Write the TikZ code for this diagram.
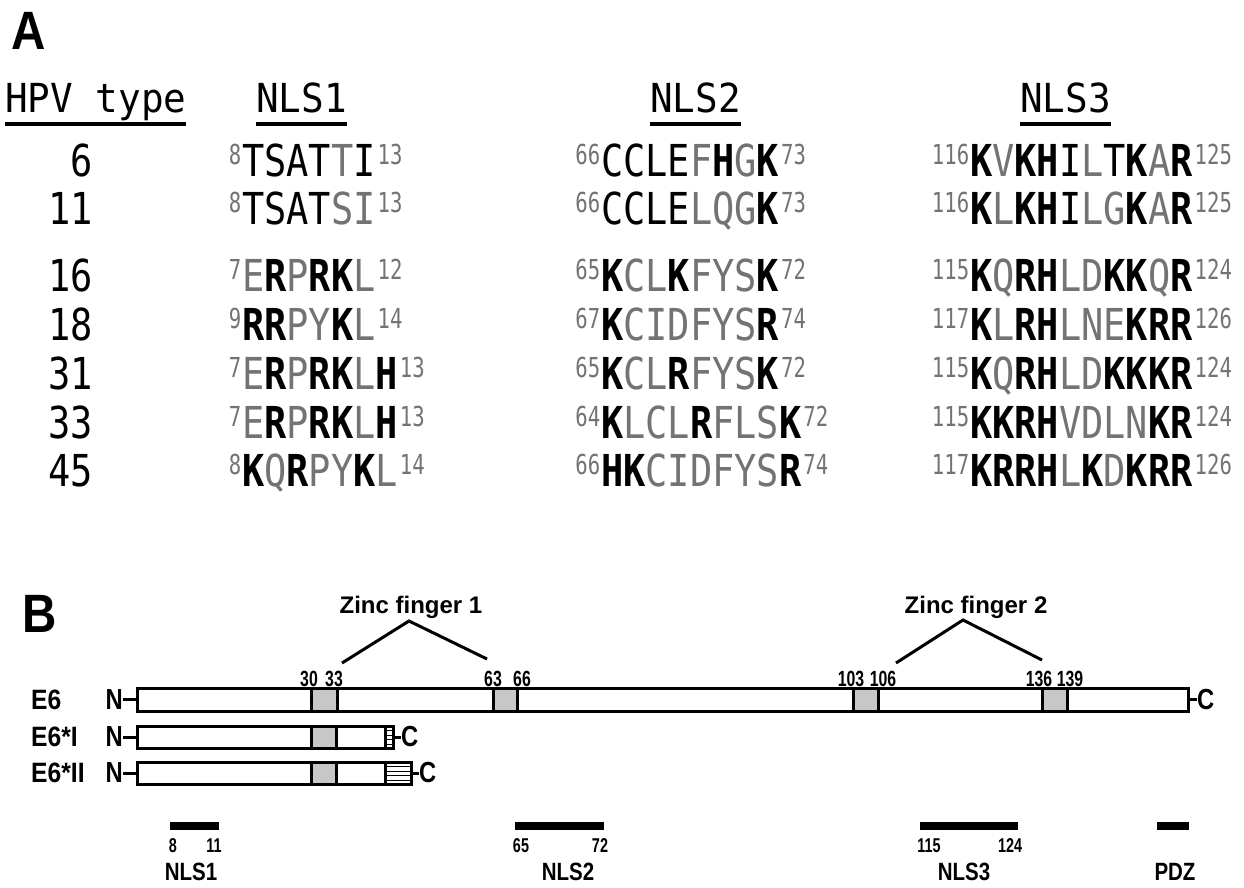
\documentclass[tikz,border=0pt]{standalone}
\usepackage{fontspec}
\setmainfont{Liberation Sans}
\newfontfamily\seqfont[FakeStretch=0.84]{DejaVu Sans Mono}
\newfontfamily\hdrfont[FakeStretch=0.94]{DejaVu Sans Mono}
\newfontfamily\supfont[FakeStretch=0.75]{DejaVu Sans Mono}
\newfontfamily\cfont[FakeStretch=0.82]{Liberation Sans}
\newfontfamily\rfont[FakeStretch=0.88]{Liberation Sans}
\newfontfamily\nfont[FakeStretch=0.72]{Liberation Sans}
\usepackage{xcolor}
\usetikzlibrary{positioning}

\definecolor{seqgray}{gray}{0.45}
\definecolor{zngray}{gray}{0.78}

% residue marks: bold basic residue, gray other residue
\newcommand{\bres}[1]{{\bfseries#1}}
\newcommand{\gres}[1]{{\color{seqgray}#1}}
\newcommand{\sps}[1]{\raisebox{12pt}{\fontsize{27.5}{27.5}\supfont\color{seqgray}#1}}
\newcommand{\seqtxt}[3]{\llap{\sps{#1}\hspace{1pt}}#2\rlap{\hspace{2pt}\sps{#3}}}

\begin{document}
\begin{tikzpicture}[
    x=1pt, y=-1pt,
    panel/.style={anchor=base west, inner sep=0pt, font=\fontsize{54}{54}\rfont\bfseries},
    hdr/.style={anchor=base west, inner sep=0pt, font=\fontsize{40}{40}\hdrfont},
    typenum/.style={anchor=base east, inner sep=0pt, font=\fontsize{44}{44}\seqfont},
    seq/.style={anchor=base west, inner sep=0pt, font=\fontsize{44}{44}\seqfont},
    uline/.style={line width=3.5pt},
    bar/.style={draw, line width=3pt, fill=white, outer sep=0pt, inner sep=0pt, anchor=north west},
    zn/.style={draw, line width=3pt, fill=zngray},
    hatch/.style={line width=1pt},
    rowlab/.style={anchor=west, inner sep=0pt, font=\fontsize{28}{28}\rfont\bfseries},
    term/.style={inner sep=0pt, font=\fontsize{29}{29}\cfont\bfseries},
    tick/.style={line width=3pt},
    resnum/.style={anchor=base, inner sep=0pt, font=\fontsize{22}{22}\nfont\bfseries},
    zflab/.style={anchor=base, inner sep=0pt, font=\fontsize{24}{24}\selectfont\bfseries},
    zfline/.style={line width=3pt},
    nlsbar/.style={line width=8pt},
    nlsnum/.style={anchor=base, inner sep=0pt, font=\fontsize{20}{20}\nfont\bfseries},
    nlsname/.style={anchor=base, inner sep=0pt, font=\fontsize{25}{25}\cfont\bfseries}
]
\fill[white] (0,0) rectangle (1244,888);
\useasboundingbox (0,0) rectangle (1244,888);

% ---------------- panel A ----------------
\node[panel] (pa) at (11,50) {A};

\node[hdr] (hpv) at (5,113) {HPV type};
\node[hdr] (h1) at (256,113) {NLS1};
\node[hdr] (h2) at (650,113) {NLS2};
\node[hdr] (h3) at (1020,113) {NLS3};
\draw[uline] ([yshift=-11pt]hpv.base west) -- ([yshift=-11pt]hpv.base east);
\draw[uline] ([yshift=-11pt]h1.base west) -- ([yshift=-11pt]h1.base east);
\draw[uline] ([yshift=-11pt]h2.base west) -- ([yshift=-11pt]h2.base east);
\draw[uline] ([yshift=-11pt]h3.base west) -- ([yshift=-11pt]h3.base east);

% HPV types
\node[typenum] (t6) at (93,176) {6};
\node[typenum] (t11) at (93,224) {11};
\node[typenum] (t16) at (93,291) {16};
\node[typenum] (t18) at (93,340) {18};
\node[typenum] (t31) at (93,389) {31};
\node[typenum] (t33) at (93,438) {33};
\node[typenum] (t45) at (93,486) {45};

% NLS1
\node[seq] (a6) at (242,176) {\seqtxt{8}{TSAT\gres{T}I}{13}};
\node[seq] (a11) at (242,224) {\seqtxt{8}{TSAT\gres{SI}}{13}};
\node[seq] (a16) at (242,291) {\seqtxt{7}{\gres{E}\bres{R}\gres{P}\bres{RK}\gres{L}}{12}};
\node[seq] (a18) at (242,340) {\seqtxt{9}{\bres{RR}\gres{PY}\bres{K}\gres{L}}{14}};
\node[seq] (a31) at (242,389) {\seqtxt{7}{\gres{E}\bres{R}\gres{P}\bres{RK}\gres{L}\bres{H}}{13}};
\node[seq] (a33) at (242,438) {\seqtxt{7}{\gres{E}\bres{R}\gres{P}\bres{RK}\gres{L}\bres{H}}{13}};
\node[seq] (a45) at (242,486) {\seqtxt{8}{\bres{K}\gres{Q}\bres{R}\gres{PY}\bres{K}\gres{L}}{14}};

% NLS2
\node[seq] (b6) at (601,176) {\seqtxt{66}{CCLE\gres{F}\bres{H}\gres{G}\bres{K}}{73}};
\node[seq] (b11) at (601,224) {\seqtxt{66}{CCLE\gres{LQG}\bres{K}}{73}};
\node[seq] (b16) at (601,291) {\seqtxt{65}{\bres{K}\gres{CL}\bres{K}\gres{FYS}\bres{K}}{72}};
\node[seq] (b18) at (601,340) {\seqtxt{67}{\bres{K}\gres{CIDFYS}\bres{R}}{74}};
\node[seq] (b31) at (601,389) {\seqtxt{65}{\bres{K}\gres{CL}\bres{R}\gres{FYS}\bres{K}}{72}};
\node[seq] (b33) at (601,438) {\seqtxt{64}{\bres{K}\gres{LCL}\bres{R}\gres{FLS}\bres{K}}{72}};
\node[seq] (b45) at (601,486) {\seqtxt{66}{\bres{HK}\gres{CIDFYS}\bres{R}}{74}};

% NLS3
\node[seq] (c6) at (970,176) {\seqtxt{116}{\bres{K}\gres{V}\bres{KH}I\gres{L}T\bres{K}\gres{A}\bres{R}}{125}};
\node[seq] (c11) at (970,224) {\seqtxt{116}{\bres{K}\gres{L}\bres{KH}I\gres{LG}\bres{K}\gres{A}\bres{R}}{125}};
\node[seq] (c16) at (970,291) {\seqtxt{115}{\bres{K}\gres{Q}\bres{RH}\gres{LD}\bres{KK}\gres{Q}\bres{R}}{124}};
\node[seq] (c18) at (970,340) {\seqtxt{117}{\bres{K}\gres{L}\bres{RH}\gres{LNE}\bres{KRR}}{126}};
\node[seq] (c31) at (970,389) {\seqtxt{115}{\bres{K}\gres{Q}\bres{RH}\gres{LD}\bres{KKKR}}{124}};
\node[seq] (c33) at (970,438) {\seqtxt{115}{\bres{KKRH}\gres{VDLN}\bres{KR}}{124}};
\node[seq] (c45) at (970,486) {\seqtxt{117}{\bres{KRRH}\gres{L}\bres{K}\gres{D}\bres{KRR}}{126}};

% ---------------- panel B ----------------
\node[panel] (pb) at (22,632) {B};

% protein bars
\node[bar, minimum width=1051pt, minimum height=23pt] (e6) at (137,688) {};
\node[bar, minimum width=256pt, minimum height=22pt] (e6i) at (137,726) {};
\node[bar, minimum width=274pt, minimum height=22pt] (e6ii) at (137,762) {};

% zinc finger cysteine blocks
\draw[zn] (311,688) rectangle (337,711);
\draw[zn] (493,688) rectangle (517,711);
\draw[zn] (853,688) rectangle (878,711);
\draw[zn] (1042,688) rectangle (1067,711);
\draw[zn] (311,726) rectangle (336,748);
\draw[zn] (311,762) rectangle (336,784);

% spliced ends
\draw[tick] (385,726) -- (385,748);
\foreach \yy in {730.5,735,739.5,744} \draw[hatch] (385,\yy) -- (393,\yy);
\draw[tick] (385,762) -- (385,784);
\foreach \yy in {766.5,771,775.5,780} \draw[hatch] (385,\yy) -- (411,\yy);

% row labels and termini
\node[rowlab] (l6) at (31,700) {E6};
\node[rowlab] (l6i) at (31,737) {E6*I};
\node[rowlab] (l6ii) at (31,773) {E6*II};
\node[term, left=14pt of e6.west] (n6) {N};
\node[term, left=14pt of e6i.west] (n6i) {N};
\node[term, left=14pt of e6ii.west] (n6ii) {N};
\node[term, right=9pt of e6.east] (c6e) {C};
\node[term, right=8pt of e6i.east] (c6ie) {C};
\node[term, right=8pt of e6ii.east] (c6iie) {C};
\draw[tick] (n6) -- (e6);
\draw[tick] (n6i) -- (e6i);
\draw[tick] (n6ii) -- (e6ii);
\draw[tick] (e6) -- (c6e);
\draw[tick] (e6i) -- (c6ie);
\draw[tick] (e6ii) -- (c6iie);

% residue numbers
\node[resnum] (p30) at (309,686) {30};
\node[resnum] (p33) at (334,686) {33};
\node[resnum] (p63) at (493,686) {63};
\node[resnum] (p66) at (522,686) {66};
\node[resnum] (p103) at (851,686) {103};
\node[resnum] (p106) at (883,686) {106};
\node[resnum] (p136) at (1039,686) {136};
\node[resnum] (p139) at (1070,686) {139};

% zinc finger brackets
\node[zflab] (zf1) at (411,613) {Zinc finger 1};
\node[zflab] (zf2) at (976,613) {Zinc finger 2};
\coordinate (zf1a) at (342,663);
\coordinate (zf1t) at (409,621);
\coordinate (zf1b) at (487,659);
\coordinate (zf2a) at (896,663);
\coordinate (zf2t) at (963,620);
\coordinate (zf2b) at (1042,660);
\draw[zfline] (zf1a) -- (zf1t) -- (zf1b);
\draw[zfline] (zf2a) -- (zf2t) -- (zf2b);

% NLS and PDZ motifs
\coordinate (m1a) at (170,826); \coordinate (m1b) at (219,826);
\coordinate (m2a) at (515,826); \coordinate (m2b) at (604,826);
\coordinate (m3a) at (920,826); \coordinate (m3b) at (1018,826);
\coordinate (m4a) at (1157,826); \coordinate (m4b) at (1189,826);
\draw[nlsbar] (m1a) -- (m1b);
\draw[nlsbar] (m2a) -- (m2b);
\draw[nlsbar] (m3a) -- (m3b);
\draw[nlsbar] (m4a) -- (m4b);
\node[nlsnum] (q8) at (173,852) {8};
\node[nlsnum] (q11) at (214,852) {11};
\node[nlsnum] (q65) at (521,852) {65};
\node[nlsnum] (q72) at (600,852) {72};
\node[nlsnum] (q115) at (929,852) {115};
\node[nlsnum] (q124) at (1010,852) {124};
\node[nlsname] (s1) at (191,880) {NLS1};
\node[nlsname] (s2) at (568,880) {NLS2};
\node[nlsname] (s3) at (964,880) {NLS3};
\node[nlsname] (s4) at (1175,880) {PDZ};
\end{tikzpicture}
\end{document}
